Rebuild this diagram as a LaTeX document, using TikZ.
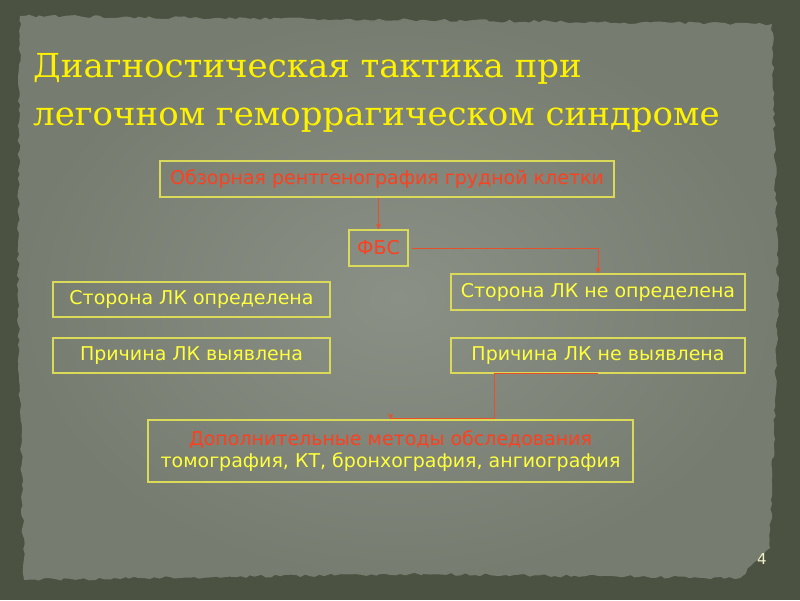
\documentclass[tikz,border=0pt]{standalone}
\usepackage{fontspec}
\setmainfont{DejaVu Sans}
\newfontfamily\titlefont[FakeStretch=1.03]{DejaVu Serif}
\usetikzlibrary{arrows.meta, positioning, decorations.pathmorphing}
\definecolor{cframe}{HTML}{4B5241}
\definecolor{cpaper}{HTML}{767C70}
\definecolor{cpaperlt}{HTML}{8A9085}
\definecolor{cbox}{HTML}{DADA58}
\definecolor{cred}{HTML}{FF3F1E}
\definecolor{cyel}{HTML}{FFFF3C}
\definecolor{cline}{HTML}{E8502A}
\definecolor{cnum}{HTML}{F2F2C8}
\tikzset{
  every picture/.style={x=1pt, y=-1pt},
  box/.style={draw=cbox, line width=1.2pt, align=center, inner sep=2pt, font=\fontsize{19}{22}\selectfont},
  link/.style={draw=cline, line width=1pt, -{Stealth[length=6pt, width=5pt]}},
  title/.style={font=\titlefont\fontsize{33}{40}\selectfont, text=yellow, anchor=base west, inner sep=0pt},
}
\begin{document}
\begin{tikzpicture}[
    redbox/.style={box, text=cred},
    yelbox/.style={box, text=cyel},
  ]
  \useasboundingbox (0,0) rectangle (800,600);
  % frame and paper
  \fill[cframe] (0,0) rectangle (800,600);
  \shade[inner color=cpaperlt, outer color=cpaper,
    decorate, decoration={random steps, segment length=5pt, amplitude=1.5pt}]
    (20,16) -- (420,20) -- (772,24) -- (778,300) -- (770,548) -- (740,578) -- (400,574) -- (24,580) -- (18,300) -- cycle;

  % title
  \node[title] (t1) at (33,77)  {Диагностическая тактика при};
  \node[title] (t2) at (33,125) {легочном геморрагическом синдроме};

  % boxes
  \node[redbox, minimum width=454pt, minimum height=36pt] (xray) at (387,179)   {Обзорная рентгенография грудной клетки};
  \node[redbox, minimum width=59pt,  minimum height=36pt] (fbs)  at (378.5,248) {ФБС};
  \node[yelbox, minimum width=294pt, minimum height=36pt] (rs1)  at (598,292)   {Сторона ЛК не определена};
  \node[yelbox, minimum width=277pt, minimum height=35pt] (ls1)  at (191.5,299.5) {Сторона ЛК определена};
  \node[yelbox, minimum width=277pt, minimum height=35pt] (ls2)  at (191.5,355.5) {Причина ЛК выявлена};
  \node[yelbox, minimum width=294pt, minimum height=35pt] (rs2)  at (598,355.5) {Причина ЛК не выявлена};
  \node[box, minimum width=485pt, minimum height=62pt] (more) at (390.5,451)
    {\textcolor{cred}{Дополнительные методы обследования}\\\textcolor{cyel}{томография, КТ, бронхография, ангиография}};

  % connectors
  \coordinate (bend) at (494,418);
  \draw[link] (xray.south -| fbs) -- (fbs.north);
  \draw[link, shorten <=3pt] (fbs.east) -| (rs1.north);
  \draw[link] (rs2.south) -| (bend) -| (more.north);

  % page number
  \node[text=cnum, font=\fontsize{15}{17}\selectfont] (num) at (762,559) {4};
\end{tikzpicture}
\end{document}
